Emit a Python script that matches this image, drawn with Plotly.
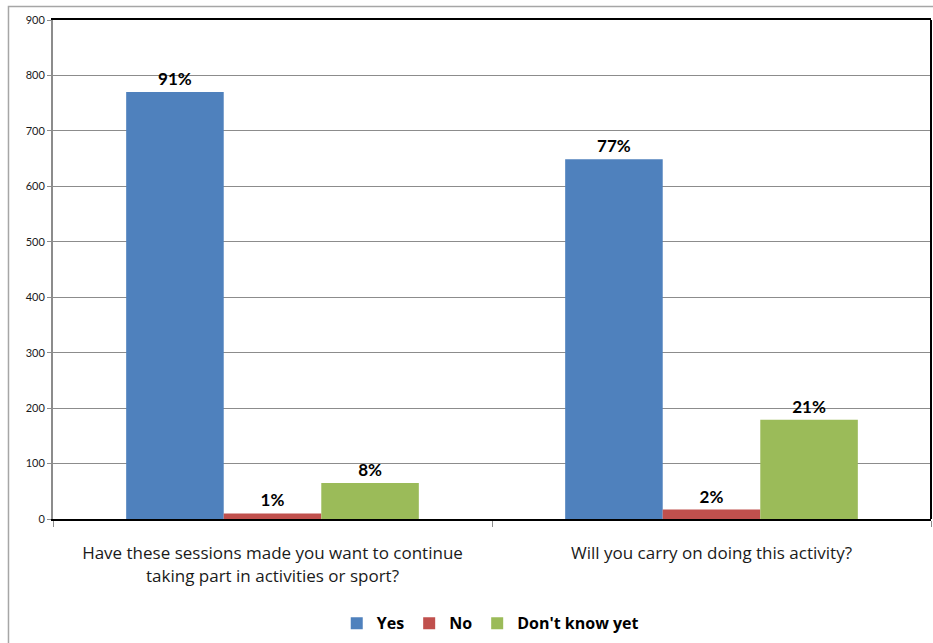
import plotly.graph_objects as go

# Survey responses (counts) for the two questions
questions = [
    "Have these sessions made you want to continue<br>taking part in activities or sport?",
    "Will you carry on doing this activity?",
]
yes_counts = [770, 649]
no_counts = [10, 17]
dont_know_counts = [65, 179]

series_names = ["Yes", "No", "Don't know yet"]
series_colors = ["#4F81BD", "#C0504D", "#9BBB59"]
y_ticks = [0, 100, 200, 300, 400, 500, 600, 700, 800, 900]

series_values = [yes_counts, no_counts, dont_know_counts]
totals = [sum(v[i] for v in series_values) for i in range(len(questions))]

FONT = "Lato, Calibri, Arial, sans-serif"
LABEL_FONT = "'Open Sans', Calibri, Arial, sans-serif"

fig = go.Figure()
for name, color, vals in zip(series_names, series_colors, series_values):
    pct = [f"{round(v / t * 100)}%" for v, t in zip(vals, totals)]
    fig.add_trace(go.Bar(
        name=name,
        x=questions,
        y=vals,
        marker=dict(color=color, line=dict(width=0)),
        text=pct,
        textposition="outside",
        textfont=dict(family=FONT, size=17, color="#000000", weight="bold"),
        cliponaxis=False,
    ))

fig.update_layout(
    width=933,
    height=643,
    margin=dict(l=53, r=2, t=20, b=124),
    paper_bgcolor="white",
    plot_bgcolor="white",
    barmode="group",
    bargap=1 / 3,
    bargroupgap=0,
    font=dict(family=FONT, color="#1a1a1a"),
    legend=dict(
        orientation="h",
        x=0.498, xanchor="center",
        y=-0.175, yanchor="top",
        font=dict(family=LABEL_FONT, size=16, color="#000000", weight="bold"),
        itemwidth=30,
        traceorder="normal",
    ),
    showlegend=True,
)

fig.update_xaxes(
    showline=True, linecolor="#000000", linewidth=2, mirror=True,
    ticks="outside", tickson="boundaries", ticklen=6, tickcolor="#8c8c8c",
    tickfont=dict(family=LABEL_FONT, size=17, color="#1a1a1a"),
    ticklabelstandoff=18,
    showgrid=False,
)
fig.update_yaxes(
    range=[0, 900],
    tickvals=y_ticks,
    showline=True, linecolor="#8c8c8c", linewidth=2,
    ticks="outside", ticklen=4, tickcolor="#8c8c8c",
    tickfont=dict(family=FONT, size=11, color="#1a1a1a"),
    showgrid=True, gridcolor="#8c8c8c", gridwidth=1,
    zeroline=False,
)

# Plot-area border on the right, and the outer chart frame
fig.add_shape(type="line", xref="paper", yref="paper",
              x0=1, x1=1, y0=0, y1=1, line=dict(color="#000000", width=2))
fig.add_shape(type="rect", xref="paper", yref="paper",
              x0=-0.0507, x1=1.2, y0=-0.5, y1=1.0271,
              line=dict(color="#a6a6a6", width=1.5), layer="below")

fig.write_html("out.html")
